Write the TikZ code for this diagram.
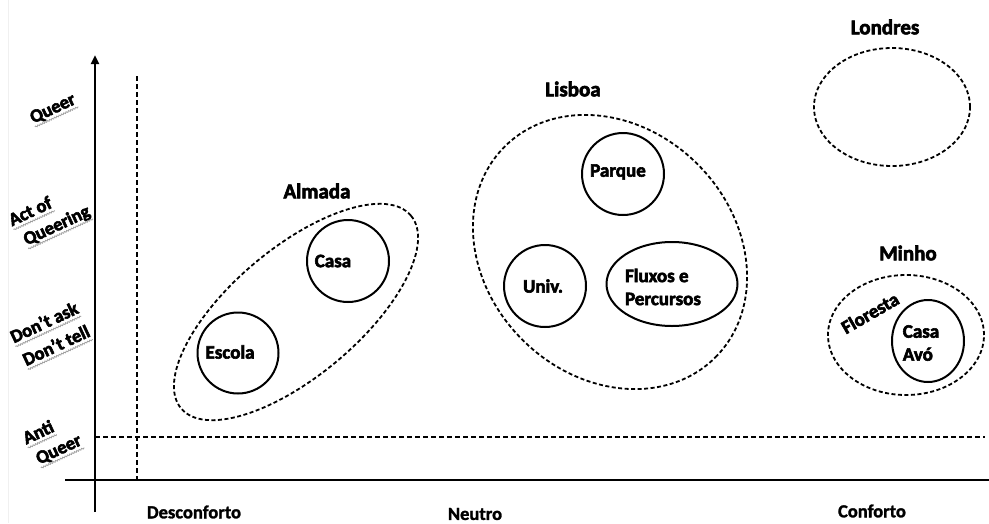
\documentclass[tikz,border=0pt]{standalone}
\usepackage{fontspec}
\setmainfont{Carlito}
\font\hvyA="Carlito Bold:embolden=3" at 19pt
\font\hvyT="Carlito Bold:embolden=3" at 21pt
\font\hvyY="Carlito Bold:embolden=3" at 18.5pt
\font\mdbA="Carlito Bold:embolden=1.5" at 18.5pt
\usetikzlibrary{arrows.meta,shapes.geometric,calc,decorations.pathmorphing}
\begin{document}
\begin{tikzpicture}[x=1pt,y=-1pt,
  every node/.style={inner sep=0pt, outer sep=0pt, font={\hvyA\baselineskip=23pt}},
  ttl/.style={font=\hvyT},
  axl/.style={font=\mdbA},
  yl/.style={font=\hvyY, rotate=25},
  sq/.style={gray!75, line width=0.8pt, decorate, decoration={snake, amplitude=0.7pt, segment length=2.6pt}},
  inl/.style={align=left},
  solidc/.style={draw, line width=2pt, circle},
  solide/.style={draw, line width=2pt, ellipse},
  dashe/.style={draw, line width=1.8pt, dash pattern=on 4pt off 2.5pt, ellipse},
  axisline/.style={line width=2.4pt},
  dline/.style={line width=1.8pt, dash pattern=on 5pt off 3pt}]

\useasboundingbox (0,0) rectangle (989,523);
\fill[white] (0,0) rectangle (989,523);

% faint border
\coordinate (fb1) at (8,0);
\coordinate (fb2) at (8,523);
\draw[gray!12, line width=0.8pt] (fb1) -- (fb2);

% axes
\coordinate (yb) at (95,512);
\coordinate (yt) at (95,55);
\coordinate (xl) at (65,480);
\coordinate (xr) at (989,480);
\draw[axisline,-{Triangle[length=9pt,width=8pt]}] (yb) -- (yt);
\draw[axisline] (xl) -- (xr);
\coordinate (vt) at (137,76);
\coordinate (vb) at (137,480);
\draw[dline] (vt) -- (vb);
\coordinate (hl) at (95,437);
\coordinate (hr) at (985,437);
\draw[dline] (hl) -- (hr);

% y labels (one node per line, each with a wavy underline)
\node[yl] (lq) at (53,109) {Queer};
\node[yl] (laq1) at (30,211) {Act of};
\node[yl] (laq2) at (57,226) {Queering};
\node[yl] (ld1) at (44,322) {Don’t ask};
\node[yl] (ld2) at (56,345) {Don’t tell};
\node[yl] (la1) at (38,432) {Anti};
\node[yl] (la2) at (59,450) {Queer};
\foreach \n in {lq,laq1,laq2,ld1,ld2,la1,la2}{
  \draw[sq] ($(\n.base west)!3.8pt!-90:(\n.base east)$) -- ($(\n.base east)!3.8pt!90:(\n.base west)$);
}

% x labels
\node[axl] (xdes) at (194,512) {Desconforto};
\node[axl] (xneu) at (475,514) {Neutro};
\node[axl] (xcon) at (872,511) {Conforto};

% Almada
\node[ttl] (talm) at (317,191) {Almada};
\node[dashe, minimum width=300pt, minimum height=128pt, rotate=40] (almada) at (296,312) {};
\node[solidc, minimum size=82pt] (casa) at (348,261) {};
\node (tcasa) at ($(casa)+(-15,0)$) {Casa};
\node[solidc, minimum size=81pt] (escola) at (238,353) {};
\node (tescola) at ($(escola)+(-8,-1)$) {Escola};

% Lisboa
\node[ttl] (tlis) at (573,89) {Lisboa};
\node[dashe, minimum width=298pt, minimum height=248pt, rotate=-45] (lisboa) at (610,252) {};
\node[solidc, minimum size=82pt] (parque) at (623,174) {};
\node (tparque) at ($(parque)+(-5,-2)$) {Parque};
\node[solidc, minimum size=82pt] (univ) at (545,286) {};
\node (tuniv) at ($(univ)+(-2,0)$) {Univ.};
\node[solide, minimum width=131pt, minimum height=84pt] (fluxos) at (672,284) {};
\node[inl] (tfluxos) at ($(fluxos)+(-9,3)$) {Fluxos e\\Percursos};

% Londres
\node[ttl] (tlon) at (885,27) {Londres};
\node[dashe, minimum width=156pt, minimum height=118pt] (londres) at (892,107) {};

% Minho
\node[ttl] (tmin) at (908,253) {Minho};
\node[dashe, minimum width=156pt, minimum height=120pt] (minho) at (906,335) {};
\node[solide, minimum width=72pt, minimum height=82pt] (avo) at (928,341) {};
\node[inl] (tavo) at ($(avo)+(-7,2)$) {Casa\\Avó};
\node[rotate=30] (tflor) at (870,313) {Floresta};
\end{tikzpicture}
\end{document}
